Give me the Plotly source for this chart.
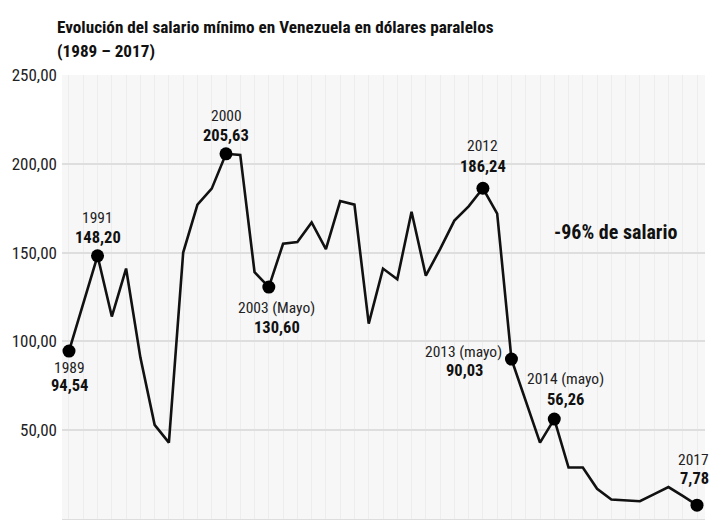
import plotly.graph_objects as go

# Salary values (USD at parallel rate), 45 equally spaced observations 1989–2017
values = [94.54, 122, 148.20, 114, 141, 91, 53, 43, 150, 177, 186, 205.63, 205,
          139, 130.60, 155, 156, 167, 152, 179, 177, 110, 141, 135, 173, 137, 152,
          168, 176, 186.24, 172, 90.03, 67, 43, 56.26, 29, 29, 17, 11, 10.5, 10,
          14, 18, 13, 7.78]
positions = list(range(len(values)))

# Highlighted points: index, year label, value label
hl_index = [0, 2, 11, 14, 29, 31, 34, 44]
hl_year = ["1989", "1991", "2000", "2003 (Mayo)", "2012", "2013 (mayo)", "2014 (mayo)", "2017"]
hl_value = ["94,54", "148,20", "205,63", "130,60", "186,24", "90,03", "56,26", "7,78"]
# pixel shifts (year dx, year dy, value dx, value dy, xanchor)
hl_shift = [
    (1, -17, 1, -34, "center"),
    (0, 38, 0, 18, "center"),
    (0, 38, 0, 18, "center"),
    (8, -21, 8, -40, "center"),
    (0, 42, 0, 22, "center"),
    (-48, 7, -47, -11, "center"),
    (11, 40, 11, 20, "center"),
    (14, 45, 14, 27, "right"),
]

y_ticks = [0, 50, 100, 150, 200, 250]

title_lines = ["Evolución del salario mínimo en Venezuela en dólares paralelos",
               "(1989 – 2017)"]
note = "-96% de salario"

FONT = "Roboto Condensed, DejaVu Sans Condensed, sans-serif"

fig = go.Figure()
fig.add_trace(go.Scatter(
    x=positions, y=values, mode="lines",
    line=dict(color="#111111", width=2.6), hoverinfo="skip", showlegend=False))
fig.add_trace(go.Scatter(
    x=[positions[i] for i in hl_index], y=[values[i] for i in hl_index],
    mode="markers", marker=dict(color="#000000", size=13),
    hoverinfo="skip", showlegend=False))

for i, yr, val, sh in zip(hl_index, hl_year, hl_value, hl_shift):
    dx1, dy1, dx2, dy2, xa = sh
    fig.add_annotation(x=positions[i], y=values[i], text=yr, showarrow=False,
                       xshift=dx1, yshift=dy1, xanchor=xa,
                       font=dict(family=FONT, size=15.5, color="#222222"))
    fig.add_annotation(x=positions[i], y=values[i], text="<b>" + val + "</b>", showarrow=False,
                       xshift=dx2, yshift=dy2, xanchor=xa,
                       font=dict(family=FONT, size=16.5, color="#111111"))

fig.add_annotation(x=38.3, y=161.5, text="<b>" + note + "</b>", showarrow=False,
                   font=dict(family=FONT, size=20, color="#111111"))

# Title as two left-aligned lines above the plot area
for line, ypos in zip(title_lines, [1.108, 1.054]):
    fig.add_annotation(x=-0.011, y=ypos, xref="paper", yref="paper", xanchor="left",
                       yanchor="middle", text="<b>" + line + "</b>", showarrow=False,
                       font=dict(family=FONT, size=17.2, color="#111111"))

fig.update_layout(
    width=713, height=522,
    margin=dict(l=62, r=8, t=75, b=3),
    paper_bgcolor="#ffffff", plot_bgcolor="#f7f7f7",
    separators=",.",
    font=dict(family=FONT, color="#222222"),
)
fig.update_xaxes(range=[-0.49, 44.56], showticklabels=False, showgrid=True,
                 gridcolor="#ededed", gridwidth=1, dtick=1, zeroline=False,
                 showline=True, linecolor="#dddddd")
fig.update_yaxes(range=[0, 250], tickvals=y_ticks, tickformat=".2f",
                 showgrid=True, gridcolor="#dedede", gridwidth=1.5, zeroline=False,
                 ticks="", tickfont=dict(family=FONT, size=17, color="#222222"),
                 ticklabelstandoff=4)

fig.write_html("out.html", config={"displayModeBar": False},
               post_script="document.body.style.margin='0';")
